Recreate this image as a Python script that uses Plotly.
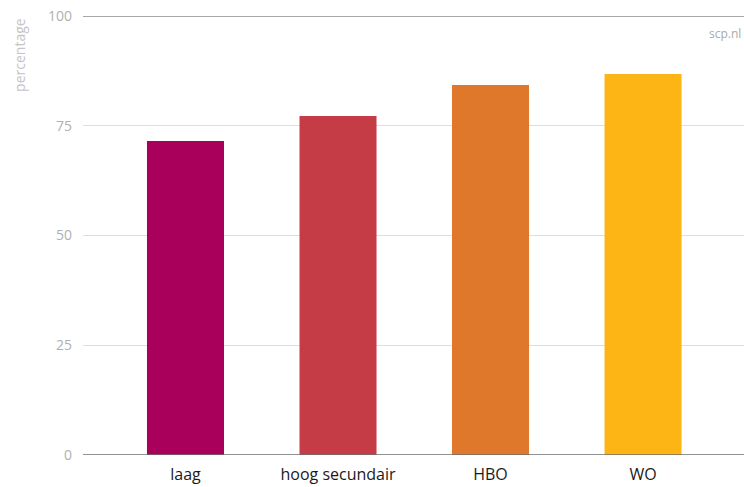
import plotly.graph_objects as go

# Share per education level (percent)
categories = ["laag", "hoog secundair", "HBO", "WO"]
values = [71.5, 77.2, 84.3, 86.8]
colors = ["#A9005B", "#C53C46", "#E0782C", "#FDB515"]
y_ticks = [0, 25, 50, 75, 100]

fig = go.Figure(
    go.Bar(
        x=categories,
        y=values,
        marker=dict(color=colors, line=dict(width=0)),
        width=0.505,
        hoverinfo="x+y",
    )
)

fig.update_layout(
    width=744,
    height=487,
    margin=dict(l=83, r=0, t=16, b=32),
    paper_bgcolor="white",
    plot_bgcolor="white",
    font=dict(family="Open Sans, Lato, sans-serif", color="#222"),
    showlegend=False,
    bargap=0.5,
    xaxis=dict(
        range=[-0.672, 3.662],
        automargin=False,
        showgrid=False,
        showline=False,
        zeroline=False,
        ticks="",
        tickfont=dict(size=16, color="#1a1a1a"),
        ticklabelstandoff=8,
    ),
    yaxis=dict(
        range=[0, 100],
        automargin=False,
        tickvals=y_ticks,
        ticktext=[str(v) for v in y_ticks],
        showgrid=True,
        gridcolor="#dedede",
        gridwidth=1,
        zeroline=False,
        showline=False,
        ticks="",
        tickfont=dict(size=14, color="#b0b0b0"),
        ticklabelstandoff=10,
    ),
    shapes=[
        # baseline at 0 and top rule at 100
        dict(type="line", xref="paper", yref="y", x0=0, x1=1, y0=0, y1=0,
             line=dict(color="#6e6e6e", width=1.5)),
        dict(type="line", xref="paper", yref="y", x0=0, x1=1, y0=100, y1=100,
             line=dict(color="#8a8a8a", width=1.5)),
    ],
    annotations=[
        dict(text="percentage", xref="paper", yref="paper", x=-0.097, y=1.0,
             xanchor="center", yanchor="top", textangle=-90, showarrow=False,
             font=dict(size=14, color="#c4c4c4")),
        dict(text="scp.nl", xref="paper", yref="paper", x=0.998, y=0.985,
             xanchor="right", yanchor="top", showarrow=False,
             font=dict(size=12, color="#aaaaaa")),
    ],
)

fig.write_html("out.html")
